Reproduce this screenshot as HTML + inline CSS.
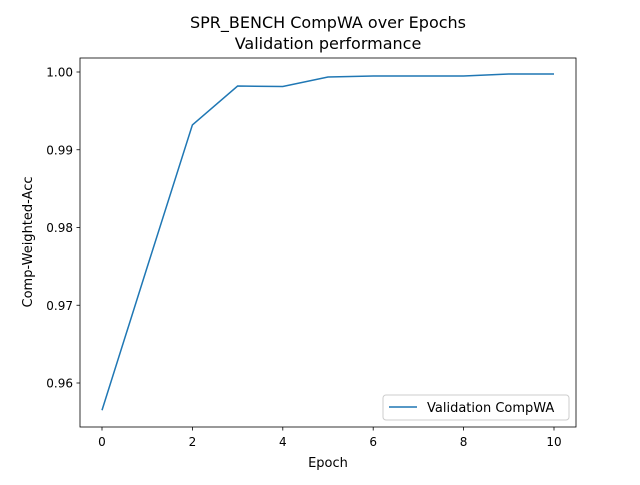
<!DOCTYPE html>
<html><head><meta charset="utf-8"><style>
body{margin:0;background:#fff;font-family:"Liberation Sans","DejaVu Sans",sans-serif;}
svg text{font-family:"DejaVu Sans","Liberation Sans",sans-serif;fill:#000;}
</style></head><body>
<svg id="chart" width="640" height="480" viewBox="0 0 640 480" xmlns="http://www.w3.org/2000/svg">
<rect width="640" height="480" fill="#fff"/>
<text x="328" y="28" font-size="16" text-anchor="middle">SPR_BENCH CompWA over Epochs</text>
<text x="328" y="49" font-size="16" text-anchor="middle">Validation performance</text>
<g id="xticks"></g><g id="yticks"></g>
<polyline id="line" fill="none" stroke="#1f77b4" stroke-width="1.5"/>
<rect x="80" y="58" width="496" height="369" fill="none" stroke="#000" stroke-width="0.8"/>
<text x="328" y="467" font-size="13" text-anchor="middle">Epoch</text>
<text transform="translate(32,242) rotate(-90)" font-size="13" text-anchor="middle">Comp-Weighted-Acc</text>
<g>
<rect x="383" y="395" width="186" height="25" rx="3" fill="#fff" stroke="#ccc" stroke-width="1"/>
<line x1="389" y1="407" x2="417" y2="407" stroke="#1f77b4" stroke-width="1.5"/>
<text x="427" y="412" font-size="13">Validation CompWA</text>
</g>
</svg>
<script>
const epochs=[0,1,2,3,4,5,6,7,8,9,10];
const compwa=[0.9565,0.9749,0.9932,0.9982,0.99813,0.99936,0.99949,0.99949,0.99949,0.99974,0.99974];
const xTickVals=[0,2,4,6,8,10];
const yTickVals=[0.96,0.97,0.98,0.99,1.00];
const yTickLabels=["0.96","0.97","0.98","0.99","1.00"];
const X=v=>102+v*45.2;
const Y=v=>383-(v-0.96)/0.01*77.75;
const NS="http://www.w3.org/2000/svg";
const xt=document.getElementById('xticks'),yt=document.getElementById('yticks');
xTickVals.forEach(v=>{
const l=document.createElementNS(NS,'line');l.setAttribute('x1',X(v));l.setAttribute('x2',X(v));l.setAttribute('y1',427);l.setAttribute('y2',430.5);l.setAttribute('stroke','#000');l.setAttribute('stroke-width','0.8');


xt.appendChild(l);
const t=document.createElementNS(NS,'text');t.setAttribute('x',X(v));t.setAttribute('y',446);t.setAttribute('font-size','12');t.setAttribute('text-anchor','middle');t.textContent=v;


xt.appendChild(t);});
yTickVals.forEach((v,i)=>{
const l=document.createElementNS(NS,'line');l.setAttribute('x1',76.5);l.setAttribute('x2',80);l.setAttribute('y1',Y(v));l.setAttribute('y2',Y(v));l.setAttribute('stroke','#000');l.setAttribute('stroke-width','0.8');


yt.appendChild(l);
const t=document.createElementNS(NS,'text');t.setAttribute('x',73);t.setAttribute('y',Y(v)+4.5);t.setAttribute('font-size','12');t.setAttribute('text-anchor','end');t.textContent=yTickLabels[i];


yt.appendChild(t);});
document.getElementById('line').setAttribute('points',epochs.map((e,i)=>X(e)+','+Y(compwa[i])).join(' '));
</script>
</body></html>
